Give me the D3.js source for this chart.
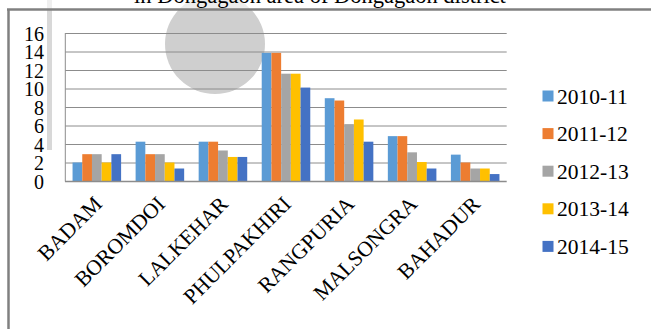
<!DOCTYPE html>
<html><head><meta charset="utf-8">
<script src="https://cdn.jsdelivr.net/npm/d3@7"></script>
<style>html,body{margin:0;padding:0;background:#fff;}svg{display:block;}</style>
</head><body>
<svg id="c" width="651" height="329"></svg>
<script>
const categories = ["BADAM","BOROMDOI","LALKEHAR","PHULPAKHIRI","RANGPURIA","MALSONGRA","BAHADUR"];
const seriesNames = ["2010-11","2011-12","2012-13","2013-14","2014-15"];
const s2010 = [2.0, 4.25, 4.25, 13.85, 8.95, 4.85, 2.85];
const s2011 = [2.9, 2.9, 4.25, 13.85, 8.7, 4.85, 2.0];
const s2012 = [2.9, 2.9, 3.3, 11.6, 6.15, 3.1, 1.35];
const s2013 = [2.0, 2.0, 2.6, 11.6, 6.65, 2.05, 1.35];
const s2014 = [2.9, 1.35, 2.6, 10.1, 4.25, 1.35, 0.75];
const colors = ["#5B9BD5","#ED7D31","#A5A5A5","#FFC000","#4472C4"];
const yTicks = [0,2,4,6,8,10,12,14,16];
const titleText = "in Dongagaon area of Dongagaon district";

const series = [s2010,s2011,s2012,s2013,s2014];
const svg = d3.select("#c");
const FONT = '"Liberation Serif", serif';

// watermark-like background shapes
svg.append("circle").attr("cx",215).attr("cy",44).attr("r",50).attr("fill","#cfcfcf");
svg.append("rect").attr("x",47).attr("y",0).attr("width",5).attr("height",150).attr("fill","#d8d8d8");
svg.append("rect").attr("x",0).attr("y",0).attr("width",651).attr("height",9).attr("fill","#fff").attr("opacity",0.6);

// title (cut off at top, as in the reference)
svg.append("text").attr("x",320).attr("y",3).attr("text-anchor","middle")
  .style("font-family",FONT).style("font-size","22.5px").attr("fill","#000").text(titleText);

// outer frame
svg.append("line").attr("x1",7).attr("x2",651).attr("y1",9.5).attr("y2",9.5).attr("stroke","#808080").attr("stroke-width",2.5);
svg.append("line").attr("x1",8.5).attr("x2",8.5).attr("y1",9).attr("y2",329).attr("stroke","#808080").attr("stroke-width",2.5);

const x0 = d3.scaleBand().domain(categories).range([65.3,506.7]).paddingInner(0.23).paddingOuter(0.115);
const x1 = d3.scaleBand().domain(seriesNames).range([0,x0.bandwidth()]);
const y = d3.scaleLinear().domain([0,16]).range([181,33]);

// gridlines
svg.append("g").selectAll("line").data(yTicks.filter(d=>d>0)).join("line")
  .attr("x1",65.3).attr("x2",506.7).attr("y1",d=>y(d)+0.5).attr("y2",d=>y(d)+0.5)
  .attr("stroke","#8c8c8c").attr("stroke-width",1);

// bars
const g = svg.append("g");
categories.forEach((c,ci)=>{
  seriesNames.forEach((s,si)=>{
    const v = series[si][ci];
    g.append("rect").attr("x",x0(c)+x1(s)).attr("width",x1.bandwidth())
      .attr("y",y(v)).attr("height",y(0)-y(v)).attr("fill",colors[si]);
  });
});

// axes lines
svg.append("line").attr("x1",65.3).attr("x2",65.3).attr("y1",33).attr("y2",181.5).attr("stroke","#8c8c8c");
svg.append("line").attr("x1",65).attr("x2",506.7).attr("y1",181.5).attr("y2",181.5).attr("stroke","#8c8c8c").attr("stroke-width",1.5);

// y labels
const yAxis = d3.axisLeft(y).tickValues(yTicks).tickSize(0).tickPadding(0);
const ya = svg.append("g").attr("transform","translate(44,0)").call(yAxis);
ya.select(".domain").remove();
ya.selectAll("text").style("font-family",FONT).style("font-size","20px").attr("fill","#000").attr("dy","0.35em");

// x labels
const xAxis = d3.axisBottom(x0).tickSize(0).tickPadding(0);
const xa = svg.append("g").attr("transform","translate(0,200)").call(xAxis);
xa.select(".domain").remove();
xa.selectAll("text").style("font-family",FONT).style("font-size","21.5px").attr("fill","#000")
  .attr("text-anchor","end").attr("dy","0.35em").attr("y",0).attr("x",0)
  .attr("transform","translate(1,0) rotate(-45)");

// legend
const lg = svg.append("g");
seriesNames.forEach((s,i)=>{
  const yy = 96 + i*37.6;
  lg.append("rect").attr("x",542.5).attr("y",yy-5.5).attr("width",11).attr("height",11).attr("fill",colors[i]);
  lg.append("text").attr("x",557).attr("y",yy).attr("dy","0.35em")
    .style("font-family",FONT).style("font-size","21.5px").attr("fill","#000").text(s);
});
</script>
</body></html>
